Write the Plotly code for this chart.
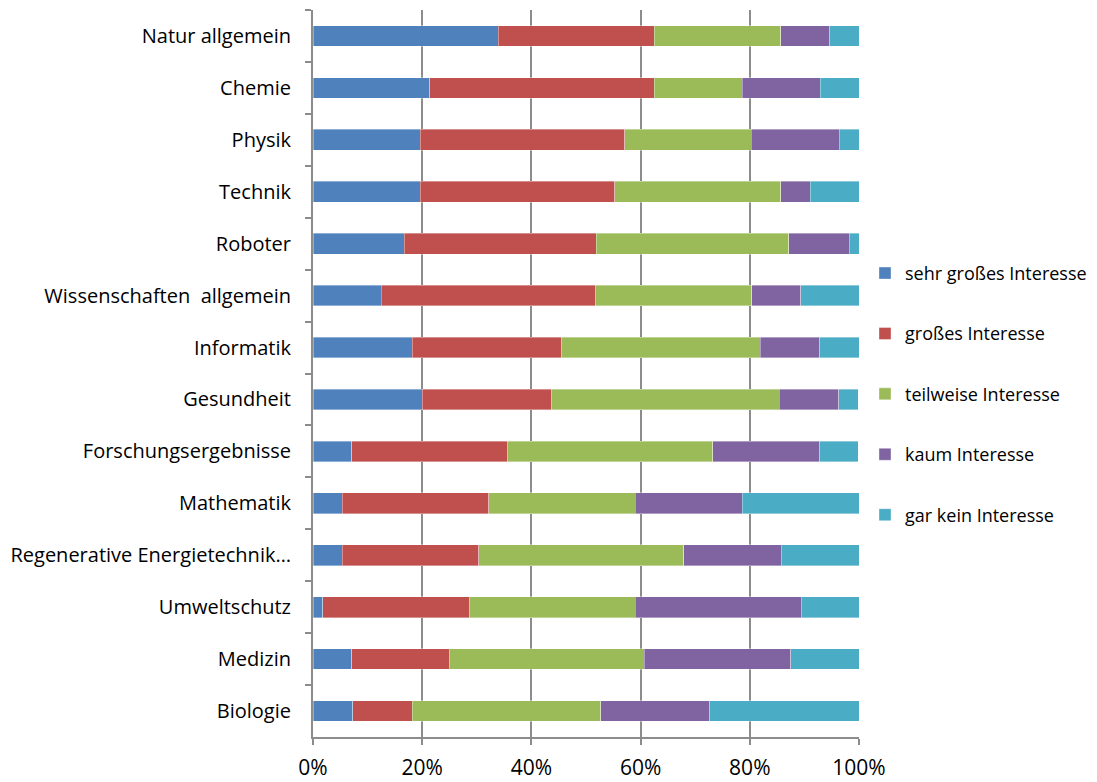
import plotly.graph_objects as go

categories = ["Natur allgemein", "Chemie", "Physik", "Technik", "Roboter",
              "Wissenschaften\u00a0\u00a0allgemein", "Informatik", "Gesundheit",
              "Forschungsergebnisse", "Mathematik", "Regenerative Energietechnik…",
              "Umweltschutz", "Medizin", "Biologie"]

sehr_gross = [33.9, 21.4, 19.6, 19.6, 16.7, 12.5, 18.2, 20.0, 7.1, 5.4, 5.4, 1.8, 7.1, 7.3]
gross      = [28.6, 41.1, 37.5, 35.7, 35.2, 39.3, 27.3, 23.6, 28.6, 26.8, 25.0, 26.8, 17.9, 10.9]
teilweise  = [23.2, 16.1, 23.2, 30.4, 35.2, 28.6, 36.4, 41.8, 37.5, 26.8, 37.5, 30.4, 35.7, 34.5]
kaum       = [8.9, 14.3, 16.1, 5.4, 11.1, 8.9, 10.9, 10.9, 19.6, 19.6, 17.9, 30.4, 26.8, 20.0]
gar_kein   = [5.4, 7.1, 3.6, 8.9, 1.9, 10.7, 7.3, 3.6, 7.1, 21.4, 14.3, 10.7, 12.5, 27.3]

series = [
    ("sehr großes Interesse", sehr_gross, "#4F81BD"),
    ("großes Interesse", gross, "#C0504D"),
    ("teilweise Interesse", teilweise, "#9BBB59"),
    ("kaum Interesse", kaum, "#8064A2"),
    ("gar kein Interesse", gar_kein, "#4BACC6"),
]

FONT = "Open Sans"

fig = go.Figure()
for name, vals, color in series:
    fig.add_trace(go.Bar(
        y=categories, x=[v / 100 for v in vals], name=name, orientation="h",
        marker=dict(color=color, line=dict(color="rgba(255,255,255,0.6)", width=0.6)),
        legendgroup=name,
    ))

fig.update_layout(
    barmode="stack",
    bargap=0.6,
    width=1097, height=782,
    margin=dict(l=305, r=246, t=2, b=53),
    paper_bgcolor="white", plot_bgcolor="white",
    font=dict(family=FONT, color="black", size=20),
    legend=dict(
        x=1.011, xanchor="left", y=0.472, yanchor="middle",
        traceorder="grouped", tracegroupgap=34,
        font=dict(family=FONT, size=18, color="black"),
        itemwidth=30,
    ),
    showlegend=True,
)

fig.update_xaxes(
    range=[0, 1], tickformat=".0%", dtick=0.2,
    showgrid=True, gridcolor="#8C8C8C", gridwidth=2,
    showline=True, linecolor="#8C8C8C", linewidth=2,
    ticks="outside", ticklen=6, tickcolor="#8C8C8C", tickwidth=2,
    tickfont=dict(family=FONT, size=21, color="black"),
    ticklabelstandoff=5,
    zeroline=False, fixedrange=True,
)
fig.update_yaxes(
    autorange="reversed",
    showline=True, linecolor="#8C8C8C", linewidth=2,
    ticks="outside", tickson="boundaries", ticklen=6, tickcolor="#8C8C8C", tickwidth=2,
    tickfont=dict(family=FONT, size=20, color="black"),
    ticklabelstandoff=16,
    showgrid=False,
)

fig.write_html("out.html")
